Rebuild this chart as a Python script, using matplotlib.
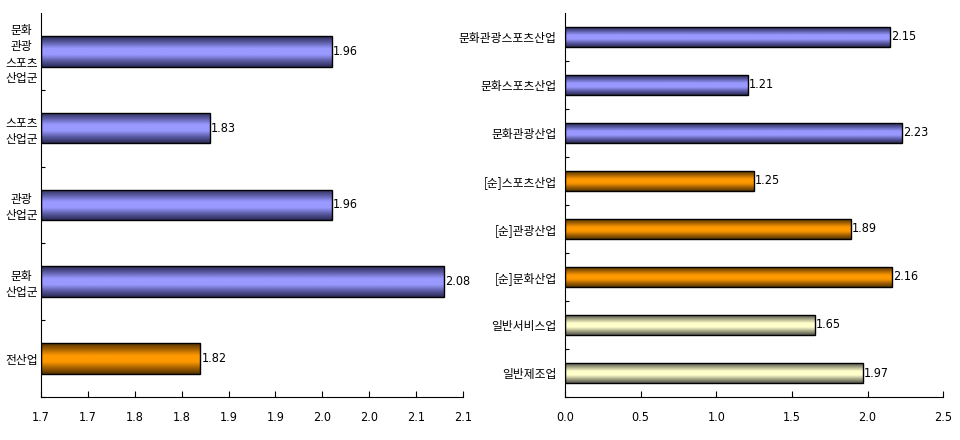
import numpy as np
import matplotlib.pyplot as plt
from matplotlib.colors import LinearSegmentedColormap

plt.rcParams['font.family'] = ['Noto Sans CJK KR', 'DejaVu Sans']

# left chart
left_labels = ['문화\n관광\n스포츠\n산업군', '스포츠\n산업군', '관광\n산업군', '문화\n산업군', '전산업']
left_values = [1.96, 1.83, 1.96, 2.08, 1.82]
left_kinds = ['blue', 'blue', 'blue', 'blue', 'orange']
left_ticks = [1.65, 1.70, 1.75, 1.80, 1.85, 1.90, 1.95, 2.00, 2.05, 2.10]
left_ticklabels = ['1.7', '1.7', '1.8', '1.8', '1.9', '1.9', '2.0', '2.0', '2.1', '2.1']

# right chart
right_labels = ['문화관광스포츠산업', '문화스포츠산업', '문화관광산업', '[순]스포츠산업',
                '[순]관광산업', '[순]문화산업', '일반서비스업', '일반제조업']
right_values = [2.15, 1.21, 2.23, 1.25, 1.89, 2.16, 1.65, 1.97]
right_kinds = ['blue', 'blue', 'blue', 'orange', 'orange', 'orange', 'yellow', 'yellow']
right_ticks = [0.0, 0.5, 1.0, 1.5, 2.0, 2.5]
right_ticklabels = ['0.0', '0.5', '1.0', '1.5', '2.0', '2.5']

shades = {
    'blue': ('#2a2a55', '#5c5ca6', '#9999ff'),
    'orange': ('#553300', '#a86400', '#ff9900'),
    'yellow': ('#55554a', '#a8a888', '#ffffcc'),
}

num_font = dict(family='DejaVu Sans', stretch='condensed')


def gradient_bars(ax, labels, values, kinds, xlim, ticks, ticklabels):
    n = len(labels)
    y = np.arange(n)[::-1]
    multi = '\n' in ''.join(labels)
    bars = ax.barh(y, np.array(values) - xlim[0], left=xlim[0], height=0.4,
                   color='none', edgecolor='black', linewidth=1.0, zorder=3)
    grad = np.linspace(0, 1, 64).reshape(-1, 1)
    for b, k in zip(bars, kinds):
        dark, mid, light = shades[k]
        cmap = LinearSegmentedColormap.from_list(k, [dark, mid, light, light, mid, dark])
        x0, y0 = b.get_x(), b.get_y()
        im = ax.imshow(grad, cmap=cmap, aspect='auto', interpolation='bilinear',
                       extent=(x0, x0 + b.get_width(), y0, y0 + b.get_height()),
                       zorder=2)
        im.set_clip_path(b)
    for b, v in zip(bars, values):
        ax.text(b.get_x() + b.get_width() + 0.003 * (xlim[1] - xlim[0]),
                b.get_y() + b.get_height() / 2, f'{v:.2f}',
                va='center', ha='left', fontsize=9, zorder=4, **num_font)
    ax.set_xlim(xlim)
    ax.set_ylim(-0.5, n - 0.5)
    ax.set_xticks(ticks)
    ax.set_xticklabels(ticklabels, fontsize=9, **num_font)
    ax.set_yticks(np.arange(n) - 0.5)
    ax.set_yticklabels([])
    ax.set_yticks(y, minor=True)
    ax.set_yticklabels(labels, minor=True, fontsize=8.5, linespacing=1.3,
                       ha='center' if multi else 'right')
    ax.tick_params(axis='y', which='minor', length=0, pad=14 if multi else 6)
    ax.tick_params(axis='y', which='major', direction='in', length=3)
    ax.tick_params(axis='x', direction='in', length=4, pad=10)
    for s in ['top', 'right']:
        ax.spines[s].set_visible(False)


fig = plt.figure(figsize=(9.6, 4.4), dpi=100)
ax1 = fig.add_axes([0.0427, 0.0977, 0.4396, 0.873])
ax2 = fig.add_axes([0.5885, 0.0977, 0.394, 0.873])

gradient_bars(ax1, left_labels, left_values, left_kinds, (1.65, 2.10),
              left_ticks, left_ticklabels)
gradient_bars(ax2, right_labels, right_values, right_kinds, (0.0, 2.5),
              right_ticks, right_ticklabels)

fig.savefig('out.png', dpi=100)
